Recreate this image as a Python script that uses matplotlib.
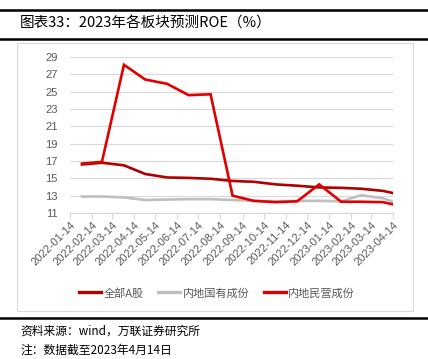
import matplotlib
matplotlib.use('Agg')
import matplotlib.pyplot as plt
import matplotlib.dates as mdates
from matplotlib.lines import Line2D
from matplotlib.patches import Rectangle
import pandas as pd

plt.rcParams['font.family'] = ['Noto Sans CJK SC', 'DejaVu Sans']

# data: month-end points plus the last day 2023-04-14
dates = ['2022-01-31', '2022-02-28', '2022-03-31', '2022-04-30', '2022-05-31',
         '2022-06-30', '2022-07-31', '2022-08-31', '2022-09-30', '2022-10-31',
         '2022-11-30', '2022-12-31', '2023-01-31', '2023-02-28', '2023-03-31',
         '2023-04-14']
all_a = [16.6, 16.8, 16.5, 15.5, 15.1, 15.05, 14.95, 14.7, 14.6, 14.3,
         14.15, 13.95, 13.9, 13.8, 13.55, 13.3]
state_owned = [12.9, 12.9, 12.8, 12.5, 12.55, 12.6, 12.6, 12.5, 12.4, 12.35,
               12.4, 12.4, 12.35, 13.05, 12.7, 12.3]
private = [16.7, 16.9, 28.1, 26.4, 25.9, 24.6, 24.7, 13.0, 12.4, 12.25,
           12.35, 14.3, 12.3, 12.3, 12.25, 12.0]
series_names = ['全部A股', '内地国有成份', '内地民营成份']
colors = ['#B00000', '#BFBFBF', '#E00000']

x = pd.to_datetime(dates)

W, H = 428, 359
fig = plt.figure(figsize=(W / 100, H / 100), dpi=100)

# title bar
fig.add_artist(Line2D([0, 1], [1 - 10 / H, 1 - 10 / H], color='black', lw=1.8))
fig.add_artist(Line2D([0, 1], [1 - 38.5 / H, 1 - 38.5 / H], color='black', lw=1.8))
fig.text(20 / W, 1 - 24 / H, '图表33：2023年各板块预测ROE（%）', fontsize=10.5,
         va='center', ha='left', color='black')

# chart frame
fig.add_artist(Rectangle((17 / W, 1 - 311 / H), (413 - 17) / W, (311 - 43) / H,
                         transform=fig.transFigure, fill=False,
                         edgecolor='#D9D9D9', lw=0.8))
fig.add_artist(Line2D([0, 1], [1 - 317.5 / H, 1 - 317.5 / H], color='black', lw=1.8))

# footer
fig.text(20 / W, 1 - 331 / H, '资料来源：wind，万联证券研究所', fontsize=8.5,
         va='center', ha='left', color='black')
fig.text(20 / W, 1 - 350 / H, '注：数据截至2023年4月14日', fontsize=8.5,
         va='center', ha='left', color='black')

ax = fig.add_axes([70 / W, 1 - 213 / H, (393 - 70) / W, 156 / H])
lines = []
for vals, name, c in zip([all_a, state_owned, private], series_names, colors):
    ln, = ax.plot(x, vals, color=c, lw=1.9, label=name, solid_joinstyle='miter')
    lines.append(ln)

ax.set_ylim(11, 29)
ax.set_yticks(range(11, 30, 2))
ax.set_xlim(pd.Timestamp('2022-01-14'), pd.Timestamp('2023-04-14'))
ax.xaxis.set_major_locator(mdates.MonthLocator(bymonthday=14))
ax.xaxis.set_major_formatter(mdates.DateFormatter('%Y-%m-%d'))

ax.grid(axis='y', color='#D9D9D9', lw=0.8)
ax.set_axisbelow(True)
for s in ['left', 'right', 'top']:
    ax.spines[s].set_visible(False)
ax.spines['bottom'].set_color('#D9D9D9')
ax.tick_params(axis='y', length=0, pad=9, labelsize=8, labelcolor='#595959')
ax.tick_params(axis='x', length=4, color='#D9D9D9', pad=1, labelsize=8,
               labelcolor='#595959')
for lab in ax.get_xticklabels():
    lab.set_rotation(45)
    lab.set_ha('right')
    lab.set_rotation_mode('anchor')
    lab.set_family('Liberation Sans')
for lab in ax.get_yticklabels():
    lab.set_family('Liberation Sans')

leg = fig.legend(handles=lines, labels=series_names, loc='center', ncol=3,
                 bbox_to_anchor=(217 / W, 1 - 293 / H), frameon=False,
                 fontsize=8, labelcolor='#595959', handlelength=2.0,
                 handletextpad=0.2, columnspacing=1.3)
for h in leg.legend_handles:
    h.set_linewidth(2.4)

fig.savefig('out.png', dpi=100)
